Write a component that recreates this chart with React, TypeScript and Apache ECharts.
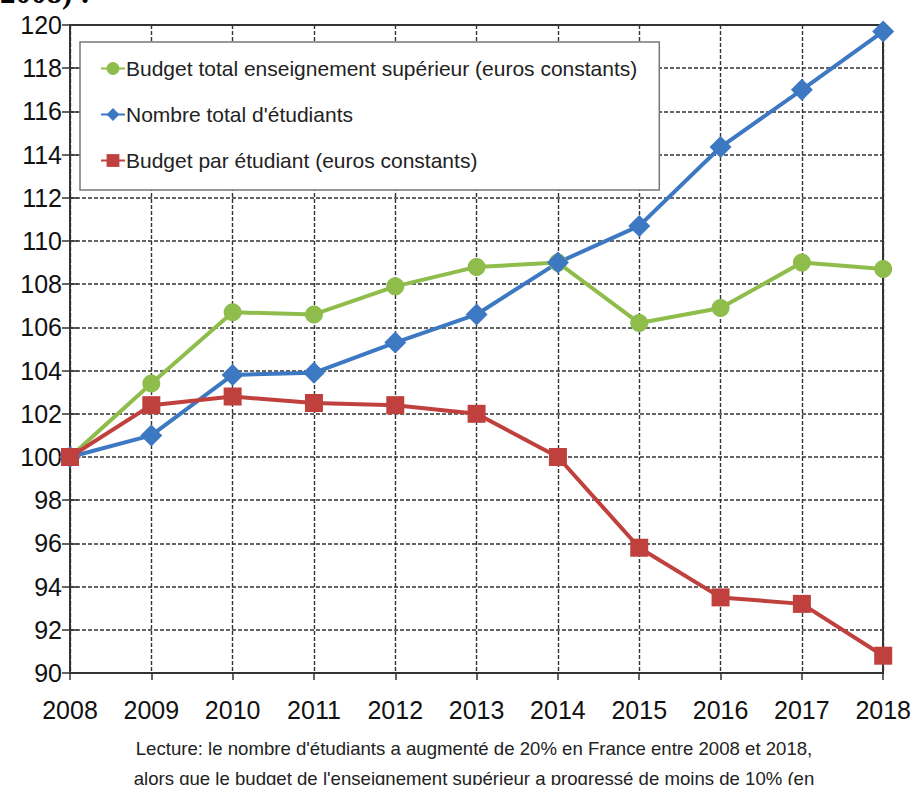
import React, { useEffect, useRef } from "react";
import * as echarts from "echarts";

const years = ["2008", "2009", "2010", "2011", "2012", "2013", "2014", "2015", "2016", "2017", "2018"];
const budgetTotal = [100, 103.4, 106.7, 106.6, 107.9, 108.8, 109.0, 106.2, 106.9, 109.0, 108.7];
const nombreEtudiants = [100, 101.0, 103.8, 103.9, 105.3, 106.6, 109.0, 110.7, 114.35, 117.0, 119.7];
const budgetParEtudiant = [100, 102.4, 102.8, 102.5, 102.4, 102.0, 100.0, 95.8, 93.5, 93.2, 90.8];
const seriesNames = [
  "Budget total enseignement supérieur (euros constants)",
  "Nombre total d'étudiants",
  "Budget par étudiant (euros constants)",
];
const lectureLines = [
  "Lecture: le nombre d'étudiants a augmenté de 20% en France entre 2008 et 2018,",
  "alors que le budget de l'enseignement supérieur a progressé de moins de 10% (en",
];
const titleFragment = "2008) :";

const FONT = "'Liberation Sans', Arial, sans-serif";

export default function App() {
  const ref = useRef<HTMLDivElement>(null);
  useEffect(() => {
    if (!ref.current) return;
    const chart = echarts.init(ref.current, undefined, { renderer: "svg" });
    const yBase = { type: "value", min: 90, max: 120, interval: 2 };
    chart.setOption({
      animation: false,
      backgroundColor: "#ffffff",
      grid: { left: 70, right: 28, top: 25, bottom: 112, containLabel: false },
      legend: {
        orient: "vertical",
        left: 80,
        top: 42,
        padding: [16, 22, 19, 20],
        itemGap: 25,
        itemWidth: 24,
        itemHeight: 16,
        backgroundColor: "#ffffff",
        borderColor: "#777",
        borderWidth: 1.5,
        textStyle: { fontFamily: FONT, fontSize: 21, color: "#222", padding: [0, 0, 0, -4] },
        data: seriesNames,
      },
      xAxis: [
        {
          type: "category",
          data: years,
          boundaryGap: false,
          axisLine: { show: true, lineStyle: { color: "#333", width: 2 } },
          axisTick: { show: true, length: 7, lineStyle: { color: "#333", width: 1.5 } },
          axisLabel: { fontFamily: FONT, fontSize: 25, color: "#111", margin: 24 },
          splitLine: { show: true, lineStyle: { color: "#333", width: 1.4, type: [4, 2] } },
        },
        {
          type: "category",
          data: years,
          boundaryGap: false,
          position: "top",
          axisLine: { show: true, lineStyle: { color: "#333", width: 2 } },
          axisTick: { show: false },
          axisLabel: { show: false },
          splitLine: { show: false },
        },
      ],
      yAxis: [
        {
          ...yBase,
          position: "left",
          axisLine: { show: true, lineStyle: { color: "#333", width: 2 } },
          axisTick: { show: true, length: 8, lineStyle: { color: "#333", width: 1.5 } },
          axisLabel: { fontFamily: FONT, fontSize: 25, color: "#111", margin: 8 },
          splitLine: { show: true, lineStyle: { color: "#333", width: 1.5, type: [4, 2] } },
        },
        {
          ...yBase,
          position: "right",
          axisLine: { show: true, lineStyle: { color: "#333", width: 2 } },
          axisTick: { show: false },
          axisLabel: { show: false },
          splitLine: { show: false },
        },
        {
          ...yBase,
          position: "left",
          axisLine: { show: false },
          axisTick: { show: true, inside: true, length: 8, lineStyle: { color: "#333", width: 1.5 } },
          axisLabel: { show: false },
          splitLine: { show: false },
        },
      ],
      series: [
        {
          name: seriesNames[0],
          type: "line",
          data: budgetTotal,
          symbol: "circle",
          symbolSize: 18,
          color: "#8fbd4c",
          lineStyle: { width: 4, color: "#8fbd4c" },
          itemStyle: { color: "#8fbd4c" },
        },
        {
          name: seriesNames[1],
          type: "line",
          data: nombreEtudiants,
          symbol: "diamond",
          symbolSize: 22,
          color: "#3d78c2",
          lineStyle: { width: 4, color: "#3d78c2" },
          itemStyle: { color: "#3d78c2" },
        },
        {
          name: seriesNames[2],
          type: "line",
          data: budgetParEtudiant,
          symbol: "rect",
          symbolSize: 18,
          color: "#c0403e",
          lineStyle: { width: 4, color: "#c0403e" },
          itemStyle: { color: "#c0403e" },
        },
      ],
      graphic: [
        {
          type: "text",
          left: 0,
          top: -23,
          style: {
            text: titleFragment,
            font: "bold 31px 'Liberation Serif', 'Times New Roman', serif",
            fill: "#000",
          },
        },
        {
          type: "text",
          x: 474,
          y: 748,
          style: {
            text: lectureLines[0],
            font: `18.6px ${FONT}`,
            fill: "#222",
            textAlign: "center",
            textVerticalAlign: "middle",
          },
        },
        {
          type: "text",
          x: 474,
          y: 778,
          style: {
            text: lectureLines[1],
            font: `18.6px ${FONT}`,
            fill: "#222",
            textAlign: "center",
            textVerticalAlign: "middle",
          },
        },
      ],
    });
    return () => chart.dispose();
  }, []);
  return <div ref={ref} style={{ width: 914, height: 785, position: "absolute", left: 0, top: 0 }} />;
}
